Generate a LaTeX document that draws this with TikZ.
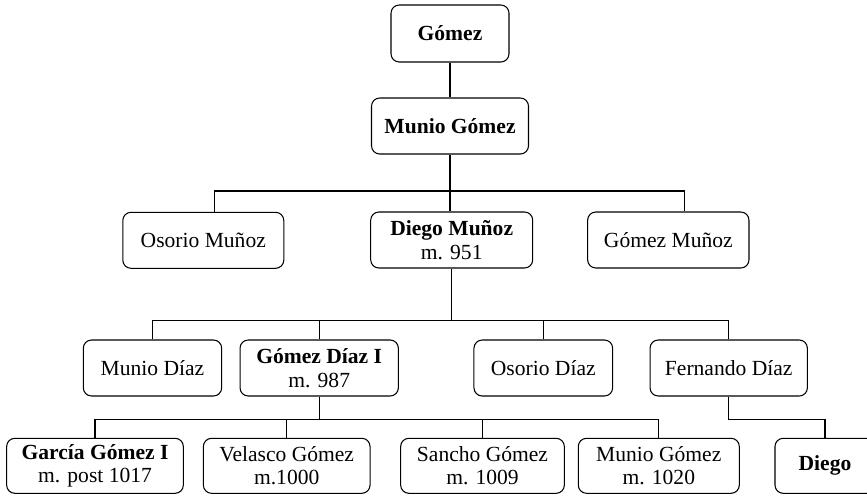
\documentclass[tikz,border=0pt]{standalone}
\usepackage{fontspec}
\setmainfont{Liberation Serif}
\usepackage{tikz}
\usetikzlibrary{positioning, calc}

\begin{document}
\begin{tikzpicture}[x=0.03cm, y=-0.03cm, line width=0.9pt,
    person/.style={draw, rounded corners=7pt, align=center, inner sep=0pt,
        minimum height=1.68cm, font=\fontsize{18.4}{19.9}\selectfont},
    branch/.style={line width=0.9pt}]
\clip (0,0) rectangle (867,495);
% generations, top to bottom
\node[person, minimum width=3.54cm, minimum height=1.71cm] (gomez) at (450,33.5) {\textbf{Gómez}};
\node[person, minimum width=4.71cm] (munio) at (450,126) {\textbf{Munio Gómez}};

\node[person, minimum width=4.83cm] (osorioM) at (203.3,240.3) {Osorio Muñoz};
\node[person, minimum width=4.86cm] (diegoM) at (451.7,240) {\textbf{Diego Muñoz}\\m. 951};
\node[person, minimum width=4.84cm] (gomezM) at (668.3,240) {Gómez Muñoz};

\node[person, minimum width=4.15cm] (munioD) at (152.5,368) {Munio Díaz};
\node[person, minimum width=4.75cm] (gomezD) at (319.2,368) {\textbf{Gómez Díaz I}\\m. 987};
\node[person, minimum width=4.16cm] (osorioD) at (543.3,368) {Osorio Díaz};
\node[person, minimum width=4.72cm] (fernandoD) at (728.7,368) {Fernando Díaz};

\node[person, minimum width=5.30cm, minimum height=1.65cm] (garcia) at (95,465.8) {\textbf{García Gómez I}\\m. post 1017};
\node[person, minimum width=5.00cm, minimum height=1.65cm] (velasco) at (286.7,465.8) {Velasco Gómez\\m.1000};
\node[person, minimum width=4.91cm, minimum height=1.65cm] (sancho) at (482.5,465.8) {Sancho Gómez\\m. 1009};
\node[person, minimum width=4.83cm, minimum height=1.65cm] (munioG) at (658.8,465.8) {Munio Gómez\\m. 1020};
\node[person, minimum width=3.00cm, minimum height=1.65cm] (diego) at (825,465.8) {\textbf{Diego}};

% fork points
\coordinate (fork2) at (450,191);
\coordinate (fork3) at (451.7,320.7);
\coordinate (fork4) at (319.2,419.3);
\coordinate (fork5) at (728.7,419.3);

\draw[branch] (gomez) -- (munio);
\draw[branch] (munio) -- (munio |- diegoM.north);
\draw[branch] ($(osorioM.north)+(11,0)$) |- (fork2) -| ($(gomezM.north)+(16.4,0)$);

\draw[branch] (diegoM) -- (fork3);
\draw[branch] (munioD) |- (fork3) -| (fernandoD);
\draw[branch] (gomezD) -- (gomezD |- fork3);
\draw[branch] (osorioD) -- (osorioD |- fork3);

\draw[branch] (gomezD) -- (fork4);
\draw[branch] (garcia) |- (fork4) -| (munioG);
\draw[branch] (velasco) -- (velasco |- fork4);
\draw[branch] (sancho) -- (sancho |- fork4);

\draw[branch] (fernandoD) -- (fork5) -| (diego);
\end{tikzpicture}
\end{document}
